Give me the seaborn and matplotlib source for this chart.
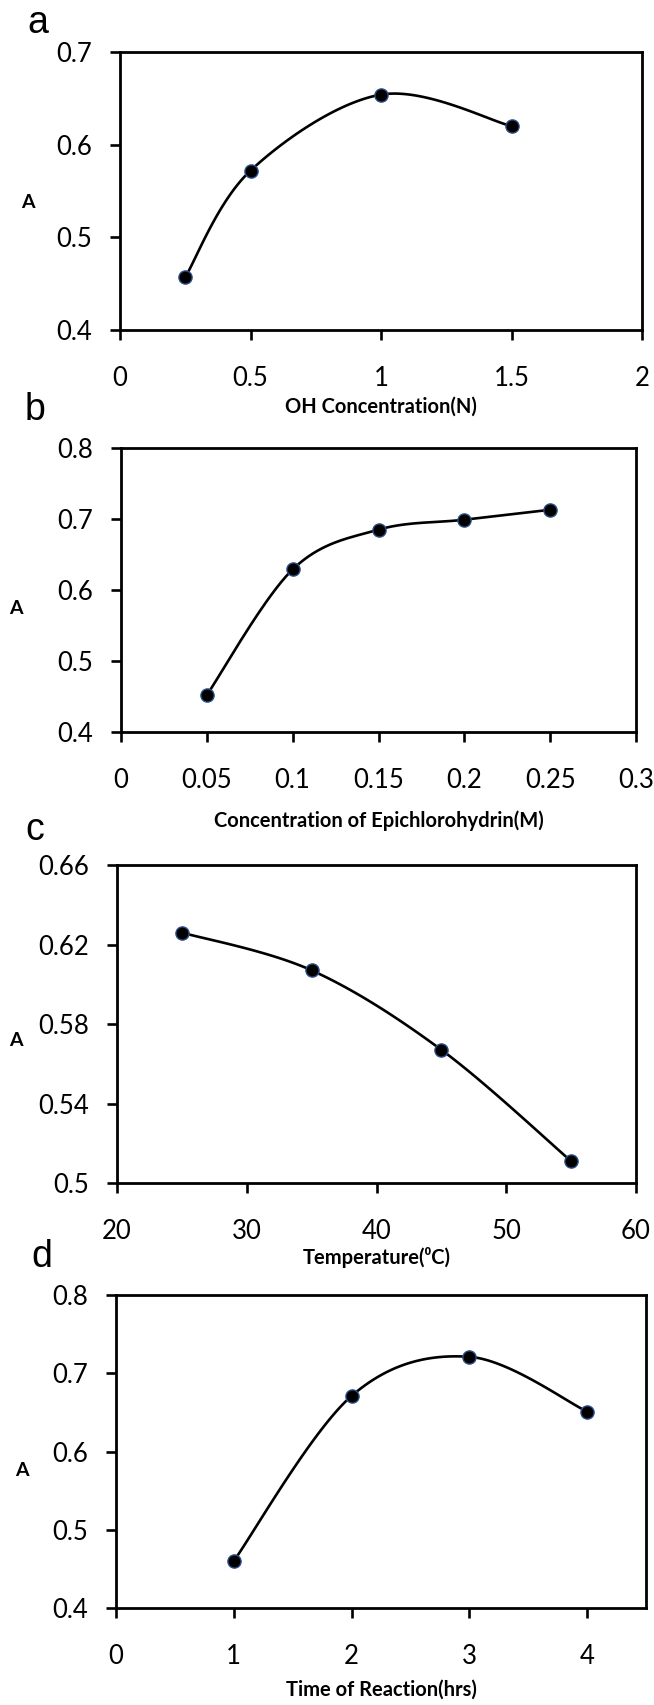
import numpy as np
import pandas as pd
import matplotlib
matplotlib.use("Agg")
import matplotlib.pyplot as plt
import seaborn as sns

# ---------------- data ----------------
oh_conc = [0.25, 0.5, 1.0, 1.5]
abs_oh = [0.457, 0.572, 0.654, 0.620]

epi_conc = [0.05, 0.10, 0.15, 0.20, 0.25]
abs_epi = [0.452, 0.629, 0.685, 0.699, 0.713]

temps = [25, 35, 45, 55]
abs_temp = [0.626, 0.607, 0.567, 0.511]

times = [1, 2, 3, 4]
abs_time = [0.460, 0.671, 0.721, 0.651]

a_xticks = [0, 0.5, 1, 1.5, 2]
a_xlabels = ["0", "0.5", "1", "1.5", "2"]
a_yticks = [0.4, 0.5, 0.6, 0.7]
a_ylabels = ["0.4", "0.5", "0.6", "0.7"]

b_xticks = [0, 0.05, 0.10, 0.15, 0.20, 0.25, 0.30]
b_xlabels = ["0", "0.05", "0.1", "0.15", "0.2", "0.25", "0.3"]
b_yticks = [0.4, 0.5, 0.6, 0.7, 0.8]
b_ylabels = ["0.4", "0.5", "0.6", "0.7", "0.8"]

c_xticks = [20, 30, 40, 50, 60]
c_xlabels = ["20", "30", "40", "50", "60"]
c_yticks = [0.50, 0.54, 0.58, 0.62, 0.66]
c_ylabels = ["0.5", "0.54", "0.58", "0.62", "0.66"]

d_xticks = [0, 1, 2, 3, 4]
d_xlabels = ["0", "1", "2", "3", "4"]
d_yticks = [0.4, 0.5, 0.6, 0.7, 0.8]
d_ylabels = ["0.4", "0.5", "0.6", "0.7", "0.8"]

panel_letters = ["a", "b", "c", "d"]
x_titles = ["OH Concentration(N)", "Concentration of Epichlorohydrin(M)",
            "Temperature(\u2070C)", "Time of Reaction(hrs)"]
y_title = "A"

# ---------------- style ----------------
sns.set_theme(style="white")
plt.rcParams["font.family"] = ["Lato", "DejaVu Sans"]

W, H = 654, 1705
fig = plt.figure(figsize=(W / 100, H / 100), dpi=100)


def smooth_curve(xs, ys, n=40):
    """Catmull-Rom style smoothing (like a spreadsheet 'smoothed line')."""
    xs = np.asarray(xs, float)
    ys = np.asarray(ys, float)
    px = np.concatenate([[xs[0]], xs, [xs[-1]]])
    py = np.concatenate([[ys[0]], ys, [ys[-1]]])
    outx, outy = [], []
    t = np.linspace(0, 1, n)
    for i in range(1, len(px) - 2):
        p0x, p1x, p2x, p3x = px[i - 1], px[i], px[i + 1], px[i + 2]
        p0y, p1y, p2y, p3y = py[i - 1], py[i], py[i + 1], py[i + 2]
        c1x = p1x + (p2x - p0x) / 6
        c1y = p1y + (p2y - p0y) / 6
        c2x = p2x - (p3x - p1x) / 6
        c2y = p2y - (p3y - p1y) / 6
        bx = (1 - t) ** 3 * p1x + 3 * (1 - t) ** 2 * t * c1x + 3 * (1 - t) * t ** 2 * c2x + t ** 3 * p2x
        by = (1 - t) ** 3 * p1y + 3 * (1 - t) ** 2 * t * c1y + 3 * (1 - t) * t ** 2 * c2y + t ** 3 * p2y
        outx.extend(bx)
        outy.extend(by)
    return np.array(outx), np.array(outy)


# pixel boxes: left, right, top, bottom
boxes = [(120, 642, 52, 330), (121, 636, 448, 732), (117, 636, 865, 1183), (116, 646, 1295, 1608)]
datasets = [(oh_conc, abs_oh), (epi_conc, abs_epi), (temps, abs_temp), (times, abs_time)]
xt = [(a_xticks, a_xlabels), (b_xticks, b_xlabels), (c_xticks, c_xlabels), (d_xticks, d_xlabels)]
yt = [(a_yticks, a_ylabels), (b_yticks, b_ylabels), (c_yticks, c_ylabels), (d_yticks, d_ylabels)]
xlims = [(0, 2), (0, 0.3), (20, 60), (0, 4.5)]
ylims = [(0.4, 0.7), (0.4, 0.8), (0.5, 0.66), (0.4, 0.8)]
letter_pos = [(27, 33), (25, 420), (25, 840), (31, 1267)]
xlabel_y = [407, 821, 1257, 1690]
ylabel_pos = [(28, 203), (16, 608), (16, 1041), (22, 1470)]

for i in range(4):
    l, r, t, b = boxes[i]
    ax = fig.add_axes([l / W, 1 - b / H, (r - l) / W, (b - t) / H])
    xs, ys = datasets[i]
    cx, cy = smooth_curve(xs, ys)
    sns.lineplot(x=cx, y=cy, ax=ax, color="black", lw=1.9, sort=False, estimator=None)
    sns.scatterplot(x=xs, y=ys, ax=ax, color="black", s=90, edgecolor="#2a4f86",
                    linewidth=1.0, zorder=5)
    ax.set_xlim(*xlims[i])
    ax.set_ylim(*ylims[i])
    ax.set_xticks(xt[i][0])
    ax.set_xticklabels(xt[i][1])
    ax.set_yticks(yt[i][0])
    ax.set_yticklabels(yt[i][1])
    ax.tick_params(axis="both", direction="out", length=7.2, width=1.9, color="black",
                   labelsize=18.5, labelcolor="black")
    ax.tick_params(axis="x", pad=19)
    ax.tick_params(axis="y", pad=13)
    ax.tick_params(bottom=True, left=True)
    for sp in ax.spines.values():
        sp.set_visible(True)
        sp.set_color("black")
        sp.set_linewidth(2.0)
    ax.set_facecolor("white")
    ax.grid(False)

    ax.set_xlabel(x_titles[i], fontsize=14.5, fontweight="bold", color="black")
    ax.xaxis.label.set_va("center")
    ax.xaxis.set_label_coords(0.5, (b - xlabel_y[i]) / (b - t))

    ax.set_ylabel(y_title, fontsize=14, fontweight="bold", rotation=0, color="black")
    ax.yaxis.label.set_va("center")
    ax.yaxis.label.set_ha("center")
    yx, yy = ylabel_pos[i]
    ax.yaxis.set_label_coords((yx - l) / (r - l), (b - yy) / (b - t))

    lx, ly = letter_pos[i]
    fig.text(lx / W, 1 - ly / H, panel_letters[i], fontsize=27, color="black",
             family=["Liberation Sans", "DejaVu Sans"], ha="left", va="baseline")

fig.savefig("out.png", dpi=100, facecolor="white")
